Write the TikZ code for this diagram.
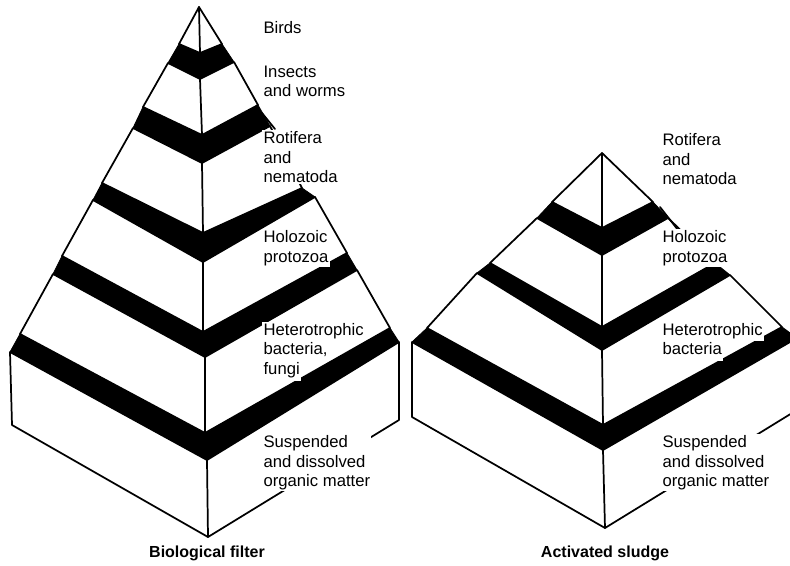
\documentclass[tikz,border=0pt]{standalone}
\usepackage{fontspec}
\setmainfont{Liberation Sans}
\usetikzlibrary{positioning}

\begin{document}
\begin{tikzpicture}[x=0.75pt, y=-0.75pt,
    face/.style={draw=black, fill=white, line width=1.3pt, line join=round},
    band/.style={draw=black, fill=black, line width=0.6pt, line join=round},
    edge/.style={draw=black, line width=1.3pt, line cap=round},
    tierlabel/.style={anchor=north west, align=left, fill=white, inner sep=1pt,
      font=\fontsize{12.5}{14.5}\selectfont},
    linelabel/.style={fill=white, inner xsep=1pt, inner ysep=0pt,
      text height=10pt, text depth=4.5pt, font=\fontsize{12.5}{14.5}\selectfont},
    caption/.style={font=\fontsize{12}{14}\selectfont\bfseries},
]
\useasboundingbox (0,0) rectangle (790,565);
\clip (0,0) rectangle (790,565);

% biological filter
\fill[band] (179,44) -- (200,53) -- (222,44) -- (234,62) -- (200,79) -- (168,63) -- cycle;
\fill[band] (143,107) -- (202,135) -- (258,105) -- (270,126) -- (202,163) -- (133,128) -- cycle;
\fill[band] (102,183) -- (203,233) -- (302,188) -- (315,197) -- (203,262) -- (93,200) -- cycle;
\fill[band] (62,256) -- (203,332) -- (347,253) -- (357,270) -- (205,357) -- (53,274) -- cycle;
\fill[band] (20,334) -- (205,433) -- (390,328) -- (399,342) -- (207,460) -- (10,352) -- cycle;

\path[face] (199,7) -- (179,44) -- (200,53) -- (222,44) -- cycle;
\path[face] (168,63) -- (200,79) -- (234,62) -- (258,105) -- (202,135) -- (143,107) -- cycle;
\path[face] (133,128) -- (202,163) -- (270,126) -- (302,188) -- (203,233) -- (102,183) -- cycle;
\path[face] (93,200) -- (203,262) -- (315,197) -- (347,253) -- (203,332) -- (62,256) -- cycle;
\path[face] (53,274) -- (205,357) -- (357,270) -- (390,328) -- (205,433) -- (20,334) -- cycle;
\path[face] (10,352) -- (207,460) -- (399,342) -- (399,420) -- (208,537) -- (12,425) -- cycle;

\draw[edge] (199,7) -- (200,53);
\draw[edge] (200,79) -- (202,135);
\draw[edge] (202,163) -- (203,233);
\draw[edge] (203,262) -- (203,332);
\draw[edge] (205,357) -- (205,433);
\draw[edge] (207,460) -- (208,537);
\draw[edge] (262,113) -- (275,129);

% activated sludge
\fill[band] (552,202) -- (602,228) -- (653,202) -- (668,218) -- (602,255) -- (537,218) -- cycle;
\fill[band] (490,263) -- (602,327) -- (715,263) -- (730,275) -- (602,350) -- (477,273) -- cycle;
\fill[band] (427,328) -- (603,425) -- (782,327) -- (797,338) -- (603,450) -- (412,342) -- cycle;

\path[face] (602,153) -- (552,202) -- (602,228) -- (653,202) -- cycle;
\path[face] (537,218) -- (602,255) -- (668,218) -- (715,263) -- (602,327) -- (490,263) -- cycle;
\path[face] (477,273) -- (602,350) -- (730,275) -- (782,327) -- (603,425) -- (427,328) -- cycle;
\path[face] (412,342) -- (603,450) -- (797,338) -- (797,410) -- (605,528) -- (412,417) -- cycle;

\draw[edge] (602,153) -- (602,228);
\draw[edge] (602,255) -- (602,327);
\draw[edge] (602,350) -- (603,425);
\draw[edge] (603,450) -- (605,528);
\draw[edge] (660,207) -- (678,230);

% labels
\node[tierlabel] (birds) at (262,20) {Birds};
\node[tierlabel] (insects) at (262,64) {Insects\\and worms};
\node[tierlabel] (rotifera) at (262,130) {Rotifera\\and\\nematoda};
\node[tierlabel] (holozoic) at (262,229) {Holozoic\\protozoa};
\node[linelabel, anchor=base west] (hetero) at (262,335) {Heterotrophic};
\node[linelabel, below right=0pt and 0pt of hetero.south west] (bacteria) {bacteria,};
\node[linelabel, below right=0pt and 0pt of bacteria.south west] (fungi) {fungi};
\node[tierlabel] (organic) at (262,434) {Suspended\\and dissolved\\organic matter};

\node[tierlabel] (asrotifera) at (661,132) {Rotifera\\and\\nematoda};
\node[tierlabel] (asholozoic) at (661,229) {Holozoic\\protozoa};
\node[linelabel, anchor=base west] (ashetero) at (661,335) {Heterotrophic};
\node[linelabel, below right=0pt and 0pt of ashetero.south west] (asbacteria) {bacteria};
\node[tierlabel] (asorganic) at (661,434) {Suspended\\and dissolved\\organic matter};

\node[caption] (filter) at (207,553) {Biological filter};
\node[caption] (sludge) at (605,553) {Activated sludge};
\end{tikzpicture}
\end{document}
